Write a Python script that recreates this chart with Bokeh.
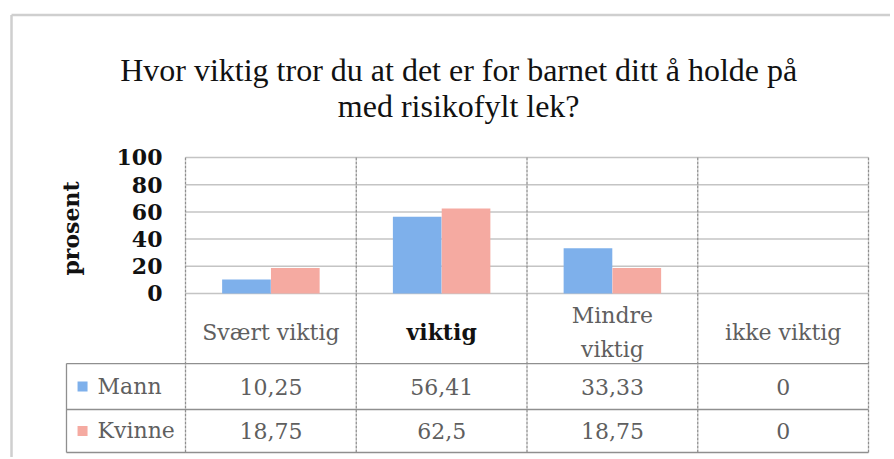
import math
from bokeh.plotting import figure
from bokeh.models import Range1d, ColumnDataSource
from bokeh.transform import dodge
from bokeh.core.properties import value
from bokeh.embed import file_html
from bokeh.resources import INLINE

# ---------------- data ----------------
title_lines = ["Hvor viktig tror du at det er for barnet ditt å holde på",
               "med risikofylt lek?"]
categories = ["Svært viktig", "viktig", "Mindre viktig", "ikke viktig"]
header_labels = ["Svært viktig", "viktig", "Mindre\nviktig", "ikke viktig"]
series = ["Mann", "Kvinne"]
mann = [10.25, 56.41, 33.33, 0]
kvinne = [18.75, 62.5, 18.75, 0]
y_ticks = [0, 20, 40, 60, 80, 100]
y_label = "prosent"

# ---------------- style / layout ----------------
W, H = 890, 457
SERIF = "DejaVu Serif"
TITLE_FONT = "Liberation Serif"
colors = ["#7eb0eb", "#f5aaa1"]
grid_col = "#c4c4c4"
table_line = "#8f8f8f"
gray_txt = "#5f5f5f"
dark_txt = "#111111"

n = len(categories)
xi = list(range(n))
X0, X1 = -1.5835, 3.6288
Y0, Y1 = -120.59, 215.44
# table geometry (value units below zero)
header_bottom = -51.5
row_bottoms = [-85.3, -116.9]
row_centers = [-68.4, -101.1]
legend_left = -1.197


def fmt(v):
    return ("%g" % v).replace(".", ",")


p = figure(width=W, height=H, x_range=Range1d(X0, X1), y_range=Range1d(Y0, Y1),
           toolbar_location=None, output_backend="svg", min_border=0)
p.axis.visible = False
p.grid.visible = False
p.outline_line_color = None

# outer chart-area border (top and left)
p.segment(x0=[-1.519, -1.519], x1=[-1.519, X1], y0=[204.8, 204.8], y1=[Y0, 204.8],
          line_color="#cfcfcf", line_width=2.5)

# title
p.text(x=[1.1] * len(title_lines), y=[164, 138.2], text=title_lines,
       text_font=value(TITLE_FONT), text_font_style="normal", text_font_size="32px",
       text_align="center", text_baseline="middle", text_color=dark_txt)

# gridlines
p.segment(x0=[-0.5] * len(y_ticks), x1=[n - 0.5] * len(y_ticks), y0=y_ticks, y1=y_ticks,
          line_color=grid_col, line_width=1.5)
# y tick labels
p.text(x=[-0.635] * len(y_ticks), y=y_ticks, text=[str(t) for t in y_ticks],
       text_font=value(SERIF), text_font_style="bold", text_font_size="22px",
       text_align="right", text_baseline="middle", text_color=dark_txt)
# y axis label
p.text(x=[-1.17], y=[47.8], text=[y_label], angle=math.pi / 2,
       text_font=value(SERIF), text_font_style="bold", text_font_size="22px",
       text_align="center", text_baseline="middle", text_color=dark_txt)

# bars
src = ColumnDataSource(dict(x=xi, mann=mann, kvinne=kvinne))
p.vbar(x=dodge("x", -0.143), top="mann", width=0.285, source=src,
       fill_color=colors[0], line_color=None)
p.vbar(x=dodge("x", 0.143), top="kvinne", width=0.285, source=src,
       fill_color=colors[1], line_color=None)

# ---------------- data table ----------------
hlines = [header_bottom] + row_bottoms
p.segment(x0=[legend_left] * len(hlines), x1=[n - 0.5] * len(hlines),
          y0=hlines, y1=hlines, line_color=table_line, line_width=1.3)
col_bounds = [i - 0.5 for i in range(n + 1)]
p.segment(x0=col_bounds, x1=col_bounds, y0=[100] * len(col_bounds),
          y1=[row_bottoms[-1]] * len(col_bounds), line_color=table_line,
          line_width=1.3, line_dash="3 1")
p.segment(x0=[legend_left], x1=[legend_left], y0=[header_bottom], y1=[row_bottoms[-1]],
          line_color=table_line, line_width=1.3)

# header
hsrc = ColumnDataSource(dict(
    x=xi, y=[-28.5] * n, text=header_labels,
    color=[dark_txt if c == "viktig" else gray_txt for c in categories],
    style=["bold" if c == "viktig" else "normal" for c in categories]))
p.text(x="x", y="y", text="text", source=hsrc, text_color="color",
       text_font_style="style", text_font=value(SERIF), text_font_size="22px",
       text_align="center", text_baseline="middle", text_line_height=1.35)

# values
for r, vals in enumerate([mann, kvinne]):
    p.text(x=xi, y=[row_centers[r]] * n, text=[fmt(v) for v in vals],
           text_color=gray_txt, text_font=value(SERIF), text_font_style="normal",
           text_font_size="22px", text_align="center", text_baseline="middle")

# legend keys
p.scatter(x=[-1.103] * len(series), y=row_centers, marker="square", size=10,
          fill_color=colors, line_color=None)
p.text(x=[-1.015] * len(series), y=row_centers, text=series, text_color=gray_txt,
       text_font=value(SERIF), text_font_style="normal", text_font_size="22px",
       text_align="left", text_baseline="middle")

open("out.html", "w").write(file_html(p, INLINE))
